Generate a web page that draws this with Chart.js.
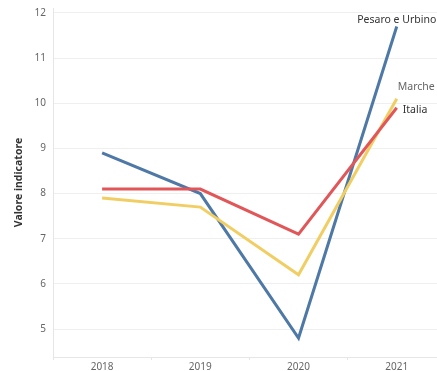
<!DOCTYPE html>
<html>
<head>
<meta charset="utf-8">
<script src="https://cdn.jsdelivr.net/npm/chart.js@4/dist/chart.umd.min.js"></script>
<style>
  html, body { margin: 0; padding: 0; background: #fff; }
  #wrap { width: 437px; height: 371px; }
</style>
</head>
<body>
<div id="wrap"><canvas id="c" width="437" height="371"></canvas></div>
<script>
// Anni e valori dell'indicatore per territorio
const years = [2018, 2019, 2020, 2021];
const pesaroUrbino = [8.9, 8.0, 4.8, 11.7];
const marche = [7.9, 7.7, 6.2, 10.1];
const italia = [8.1, 8.1, 7.1, 9.9];
const yTicks = [5, 6, 7, 8, 9, 10, 11, 12];

const COLORS = {
  pesaro: '#4e79a7',
  marche: '#f1ce63',
  italia: '#e15759'
};

const FONT = '"Noto Sans", "DejaVu Sans", sans-serif';

function toPoints(values) {
  return years.map((y, i) => ({ x: y, y: values[i] }));
}

// Etichette di fine linea accanto all'ultimo punto di ciascuna serie
const endLabels = {
  id: 'endLabels',
  afterDatasetsDraw(chart) {
    const ctx = chart.ctx;
    const xs = chart.scales.x, ys = chart.scales.y;
    ctx.save();
    ctx.font = '10.5px ' + FONT;
    chart.data.datasets.forEach(ds => {
      const last = ds.data[ds.data.length - 1];
      const px = xs.getPixelForValue(last.x);
      const py = ys.getPixelForValue(last.y);
      const o = ds.endLabel;
      ctx.fillStyle = o.color;
      ctx.textAlign = o.align;
      ctx.textBaseline = 'middle';
      ctx.fillText(ds.label, px + o.dx, py + o.dy);
    });
    ctx.restore();
  }
};

new Chart(document.getElementById('c'), {
  type: 'line',
  data: {
    datasets: [
      {
        label: 'Italia',
        data: toPoints(italia),
        borderColor: COLORS.italia,
        endLabel: { color: '#333333', align: 'left', dx: 6, dy: 2 }
      },
      {
        label: 'Marche',
        data: toPoints(marche),
        borderColor: COLORS.marche,
        endLabel: { color: '#666666', align: 'left', dx: 1, dy: -12 }
      },
      {
        label: 'Pesaro e Urbino',
        data: toPoints(pesaroUrbino),
        borderColor: COLORS.pesaro,
        endLabel: { color: '#333333', align: 'center', dx: 0, dy: -6 }
      }
    ]
  },
  options: {
    responsive: false,
    animation: false,
    devicePixelRatio: 1,
    layout: { padding: { top: 8, right: 0, bottom: 0, left: 0 } },
    elements: {
      line: { borderWidth: 3, tension: 0, fill: false, borderJoinStyle: 'miter' },
      point: { radius: 0, hoverRadius: 0 }
    },
    plugins: {
      legend: { display: false },
      tooltip: { enabled: false }
    },
    scales: {
      x: {
        type: 'linear',
        min: 2017.5,
        max: 2021.41,
        afterBuildTicks(scale) {
          const t = [];
          years.forEach(y => { t.push({ value: y - 0.5 }); t.push({ value: y }); });
          t.push({ value: 2021.5 });
          scale.ticks = t.filter(v => v.value >= scale.min && v.value <= scale.max);
        },
        afterFit(scale) {
          scale.height = 14;
          scale.paddingLeft = 0; scale.paddingRight = 0;
          scale.paddingTop = 0; scale.paddingBottom = 0;
        },
        ticks: {
          autoSkip: false,
          maxRotation: 0,
          padding: 1,
          color: '#666666',
          font: { family: FONT, size: 10 },
          callback: v => Number.isInteger(v) ? String(v) : ''
        },
        grid: {
          drawOnChartArea: false,
          tickLength: 3,
          tickColor: c => Number.isInteger(c.tick.value) ? 'rgba(0,0,0,0)' : '#e6e6e6'
        },
        border: { display: true, color: '#e6e6e6', width: 1 }
      },
      y: {
        min: 4.38,
        max: 12.11,
        afterBuildTicks(scale) {
          scale.ticks = yTicks.map(v => ({ value: v }));
        },
        afterFit(scale) {
          scale.width = 53;
          scale.paddingTop = 0; scale.paddingBottom = 0;
          scale.paddingLeft = 0; scale.paddingRight = 0;
        },
        title: {
          display: true,
          text: 'Valore indicatore',
          color: '#333333',
          font: { family: FONT, size: 10.5, weight: 'bold' },
          padding: { top: 13, bottom: 0 }
        },
        ticks: {
          color: '#666666',
          padding: 7,
          font: { family: FONT, size: 10 }
        },
        grid: {
          color: '#efefef',
          drawTicks: false
        },
        border: { display: true, color: '#e6e6e6', width: 1 }
      }
    }
  },
  plugins: [endLabels]
});
</script>
</body>
</html>
